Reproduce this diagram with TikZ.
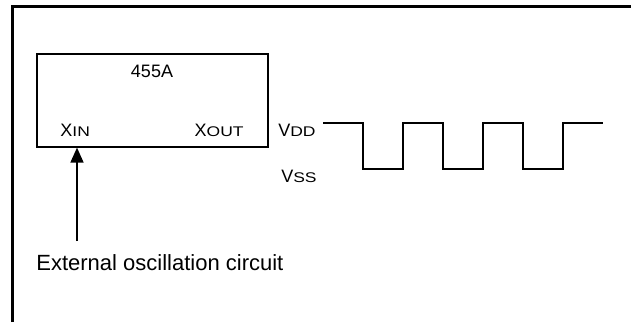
\documentclass[tikz,border=0pt]{standalone}
\usepackage{fontspec}
\setmainfont{Liberation Sans}
\newfontfamily\scfont[FakeStretch=1.25]{Liberation Sans}
\usetikzlibrary{arrows.meta}
\newcommand{\smc}[1]{{\scfont\fontsize{7}{8}\selectfont #1}}
\begin{document}
\begin{tikzpicture}[x=0.5pt,y=-0.5pt, font=\fontsize{9}{11}\selectfont,
  frame/.style={line width=1.5pt},
  chipbox/.style={draw, line width=0.8pt, minimum width=115.5pt, minimum height=46.5pt, anchor=north west, inner sep=0pt},
  lbl/.style={inner sep=0pt, anchor=base west},
  wave/.style={line width=0.9pt},
  sig/.style={line width=0.8pt, -{Triangle[width=6.5pt,length=7.5pt]}}]
\useasboundingbox (0,0) rectangle (631,322);
% frame
\draw[frame] (12,322) -- (12,6.5) -- (631,6.5);
% chip
\node[chipbox] (chip) at (36,53) {};
\node[lbl, anchor=base] (name) at (152,77) {455A};
\node[lbl] (xin) at (60,136) {X\smc{IN}};
\node[lbl, anchor=base east] (xout) at (244,136) {X\smc{OUT}};
% levels
\node[lbl, anchor=base east] (vdd) at (316,136) {V\smc{DD}};
\node[lbl, anchor=base east] (vss) at (317,182) {V\smc{SS}};
% waveform
\draw[wave] (323,123) -- (363,123) -- (363,169) -- (403,169) -- (403,123)
  -- (443,123) -- (443,169) -- (483,169) -- (483,123)
  -- (523,123) -- (523,169) -- (563,169) -- (563,123) -- (603,123);
% input
\coordinate (src) at (77,241);
\draw[sig] (src) -- (src |- chip.south);
\node[lbl, font=\fontsize{11}{13}\selectfont] (ext) at (36,270) {External oscillation circuit};
\end{tikzpicture}
\end{document}
